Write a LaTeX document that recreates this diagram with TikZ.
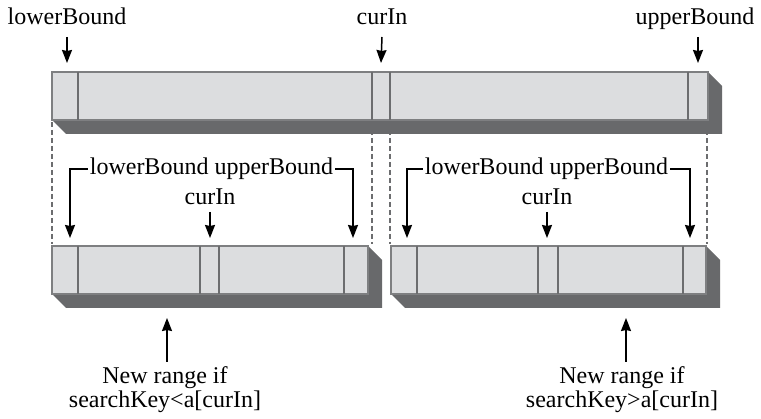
\documentclass[tikz,border=0pt]{standalone}
\usepackage{fontspec}
\setmainfont{Liberation Serif}
\usetikzlibrary{arrows.meta,positioning}
\definecolor{cellfill}{HTML}{DCDDDF}
\definecolor{celledge}{HTML}{7E7F81}
\definecolor{celldiv}{HTML}{6C6D6F}
\definecolor{cellshade}{HTML}{68696B}
\tikzset{
  lbl/.style={font=\fontsize{24}{24}\selectfont, inner sep=0pt, anchor=base},
  ptr/.style={-{Stealth[length=13pt,width=10pt,inset=1pt]}, line width=1.5pt},
  guide/.style={draw=celldiv, line width=2pt, dash pattern=on 5pt off 3pt}
}
\newcommand{\cellrow}[5]{%
  \fill[cellshade] (#1,#4) -- ++(14,14) -| (#3+14,#2+14) -- (#3,#2) -- (#3,#4) -- cycle;
  \filldraw[fill=cellfill, draw=celledge, line width=1.6pt] (#1,#2) rectangle (#3,#4);
  \foreach \d in {#5} \draw[celldiv, line width=2pt] (\d,#2) -- (\d,#4);
}
\begin{document}
\begin{tikzpicture}[x=1pt,y=-1pt]
\useasboundingbox (0,0) rectangle (761,419);
\foreach \gx in {52,372,390,707} \draw[guide] (\gx,122) -- (\gx,244);
\cellrow{52}{72}{708}{120}{78,372,390,688}
\cellrow{52}{246}{368}{294}{78,200,219,344}
\cellrow{391}{246}{706}{294}{417,538,558,683}

\node[lbl] (lb) at (67,25) {lowerBound};
\node[lbl] (ci) at (382,25) {curIn};
\node[lbl] (ub) at (695,25) {upperBound};
\coordinate (lbtip) at (67,63);
\coordinate (citip) at (381,63);
\coordinate (ubtip) at (698,63);
\draw[ptr] ([yshift=-12pt]lb.base) -- (lbtip);
\draw[ptr] ([yshift=-12pt]ci.base) -- (citip);
\draw[ptr] ([yshift=-12pt]ub.base -| ubtip) -- (ubtip);

\node[lbl, inner xsep=2pt] (lrange) at (211.5,175) {lowerBound upperBound};
\node[lbl] (lcur) at (210,205) {curIn};
\coordinate (lltip) at (70,238);
\coordinate (lrtip) at (353,238);
\coordinate (lctip) at (210,238);
\draw[ptr] (lrange.west) -| (lltip);
\draw[ptr] (lrange.east) -| (lrtip);
\draw[ptr] ([yshift=-7pt]lcur.base) -- (lctip);

\node[lbl, inner xsep=2pt] (rrange) at (546.5,175) {lowerBound upperBound};
\node[lbl] (rcur) at (547,205) {curIn};
\coordinate (rltip) at (407,238);
\coordinate (rrtip) at (690,238);
\coordinate (rctip) at (547,238);
\draw[ptr] (rrange.west) -| (rltip);
\draw[ptr] (rrange.east) -| (rrtip);
\draw[ptr] ([yshift=-7pt]rcur.base) -- (rctip);

\node[lbl, anchor=north, align=center] (lnote) at (165,366.5) {New range if\\searchKey<a[curIn]};
\node[lbl, anchor=north, align=center] (rnote) at (622,366.5) {New range if\\searchKey>a[curIn]};
\coordinate (lntip) at (167,318);
\coordinate (rntip) at (626,318);
\draw[ptr] ([yshift=4.5pt]lnote.north -| lntip) -- (lntip);
\draw[ptr] ([yshift=4.5pt]rnote.north -| rntip) -- (rntip);
\end{tikzpicture}
\end{document}
